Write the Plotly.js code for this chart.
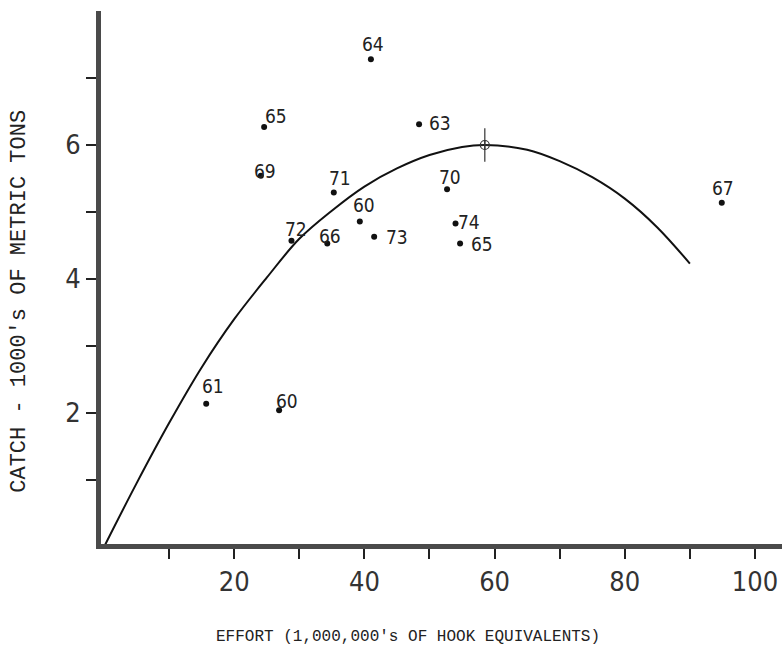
<!DOCTYPE html>
<html>
<head>
<meta charset="utf-8">
<script src="https://cdn.plot.ly/plotly-3.0.1.min.js"></script>
<style>html,body{margin:0;padding:0;background:#fff;}#chart{width:782px;height:659px;}</style>
</head>
<body>
<div id="chart"></div>
<script>
// Observed points: effort (1,000,000's of hook equivalents) vs catch (1000's of metric tons)
const pointYears = ["64", "65", "63", "69", "71", "60", "72", "66", "73", "70", "74", "65", "67", "61", "60"];
const pointEffort = [41.0, 24.6, 48.4, 24.1, 35.3, 39.3, 28.8, 34.3, 41.5, 52.7, 54.0, 54.7, 94.9, 15.7, 26.9];
const pointCatch = [7.28, 6.27, 6.31, 5.54, 5.29, 4.86, 4.57, 4.53, 4.63, 5.34, 4.83, 4.53, 5.14, 2.14, 2.04];

// Fitted production curve
const curveEffort = [0, 5, 10, 15, 20, 25, 30, 35, 40, 45, 50, 55, 58.5, 65, 70, 75, 80, 85, 90];
const curveCatch = [0, 0.95, 1.85, 2.68, 3.4, 4.02, 4.6, 5.02, 5.38, 5.65, 5.85, 5.97, 6.0, 5.93, 5.76, 5.52, 5.2, 4.77, 4.23];

// Maximum sustainable yield point
const msyEffort = [58.5];
const msyCatch = [6.0];

// Tick labels
const xTickVals = [10, 20, 30, 40, 50, 60, 70, 80, 90, 100];
const xTickText = ["", "20", "", "40", "", "60", "", "80", "", "100"];
const yTickVals = [1, 2, 3, 4, 5, 6, 7];
const yTickText = ["", "2", "", "4", "", "6", ""];

const xTitle = "EFFORT (1,000,000's OF HOOK EQUIVALENTS)";
const yTitle = "CATCH - 1000's OF METRIC TONS";

// label offsets in pixels (style only)
const labelShift = [
  [2, 15], [12, 11], [21, 1], [4, 5], [6, 15], [4, 16], [5, 12], [3, 8], [23, 0],
  [3, 12], [13, 1], [22, 0], [1, 15], [7, 18], [8, 9]
];

const narrow = '"Liberation Sans Narrow", "DejaVu Sans Condensed", "Liberation Sans", sans-serif';
const mono = '"Liberation Mono", "DejaVu Sans Mono", monospace';

const traces = [
  {
    x: curveEffort, y: curveCatch, mode: 'lines', type: 'scatter',
    line: {color: '#111', width: 2, shape: 'spline', smoothing: 1.0},
    hoverinfo: 'skip', showlegend: false
  },
  {
    x: pointEffort, y: pointCatch, mode: 'markers', type: 'scatter',
    marker: {color: '#111', size: 6},
    showlegend: false
  },
  {
    x: msyEffort, y: msyCatch, mode: 'markers', type: 'scatter',
    marker: {symbol: 'circle-cross-open', color: '#333', size: 9, line: {width: 1.2}},
    showlegend: false
  },
  {
    x: [msyEffort[0], msyEffort[0]], y: [msyCatch[0] - 0.25, msyCatch[0] + 0.25], mode: 'lines', type: 'scatter',
    line: {color: '#333', width: 1.2}, hoverinfo: 'skip', showlegend: false
  }
];

const annotations = pointYears.map((t, i) => ({
  x: pointEffort[i], y: pointCatch[i], text: t, showarrow: false,
  xanchor: 'center', yanchor: 'middle',
  xshift: labelShift[i][0], yshift: labelShift[i][1],
  font: {family: narrow, size: 19, color: '#222'}
}));

annotations.push({
  xref: 'paper', yref: 'paper', x: 0.451, y: -0.175, xanchor: 'center', yanchor: 'middle',
  text: xTitle, showarrow: false, font: {family: mono, size: 16, color: '#222'}
});
annotations.push({
  xref: 'paper', yref: 'paper', x: -0.12, y: 0.455, xanchor: 'center', yanchor: 'middle',
  text: yTitle, textangle: -90, showarrow: false, font: {family: mono, size: 22, color: '#222'}
});

const layout = {
  width: 782, height: 659,
  margin: {l: 101, r: 0, t: 11, b: 115},
  paper_bgcolor: '#fff', plot_bgcolor: '#fff',
  showlegend: false,
  xaxis: {
    range: [-0.46, 104.15], showgrid: false, zeroline: false,
    showline: true, linecolor: '#4a4a4a', linewidth: 5,
    tickmode: 'array', tickvals: xTickVals, ticktext: xTickText,
    ticks: 'outside', ticklen: 10, tickwidth: 2, tickcolor: '#222',
    tickfont: {family: narrow, size: 27, color: '#333'}
  },
  yaxis: {
    range: [0.045, 8.0], showgrid: false, zeroline: false,
    showline: true, linecolor: '#4a4a4a', linewidth: 5,
    tickmode: 'array', tickvals: yTickVals, ticktext: yTickText,
    ticks: 'outside', ticklen: 10, tickwidth: 2, tickcolor: '#222',
    tickfont: {family: narrow, size: 27, color: '#333'}
  },
  annotations: annotations
};

Plotly.newPlot('chart', traces, layout, {staticPlot: true, displayModeBar: false});
</script>
</body>
</html>
